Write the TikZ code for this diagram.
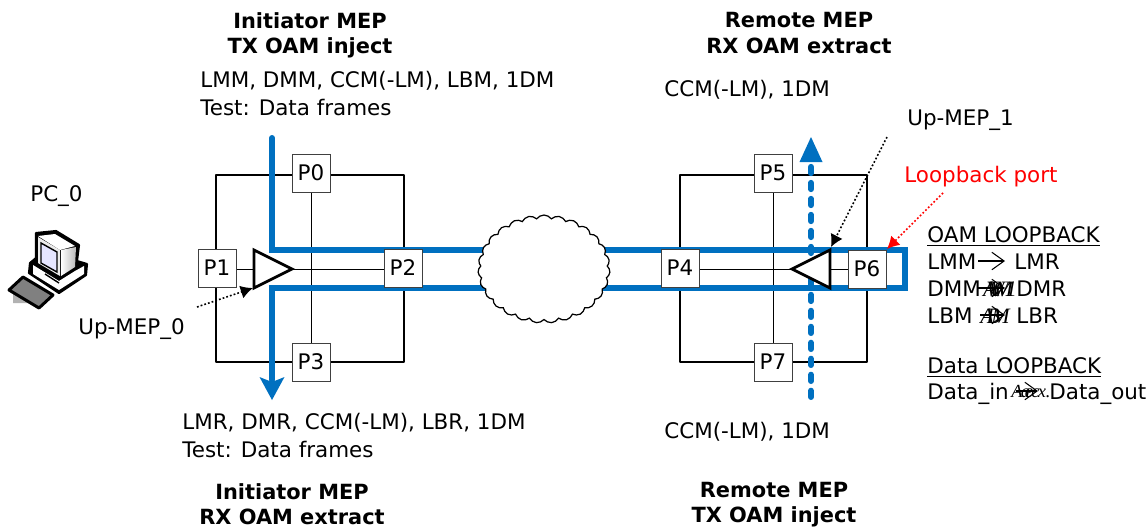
\documentclass[tikz,border=0pt]{standalone}
\usepackage{fontspec}
\setmainfont{DejaVu Sans}
\newfontfamily\smearfont{Liberation Serif}
\usetikzlibrary{arrows.meta,shapes.symbols,shapes.geometric}
\definecolor{oamblue}{RGB}{0,112,192}
\tikzset{
  portbox/.style={draw=black!75,fill=white,minimum size=0.76cm,inner sep=0pt,line width=0.5pt,font=\fontsize{12.2}{14}\selectfont},
  txt/.style={inner sep=0pt,font=\fontsize{12.2}{14}\selectfont,anchor=west},
  headtxt/.style={inner sep=0pt,align=center,font=\fontsize{11.9}{14.3}\selectfont\bfseries},
  listtxt/.style={txt,align=left,text height=9.5pt,text depth=2.5pt,yshift=-1.1pt},
  bridge/.style={line width=1.5pt,line join=round},
  wire/.style={line width=0.55pt},
  oamline/.style={line width=3.4pt,color=oamblue,line join=miter},
  oamdash/.style={line width=3.4pt,color=oamblue,dash pattern=on 3.6pt off 5.5pt,line cap=round},
  hint/.style={line width=0.9pt,dash pattern=on 1pt off 1.2pt,-{Latex[length=7pt,width=7.5pt]}},
  mep/.style={draw,fill=white,line width=1.6pt,line join=miter},
  swap/.style={line width=0.6pt,-{Straight Barb[length=7pt,width=10pt,line width=0.6pt]}},
  smear/.style={inner sep=0pt,font=\fontsize{12.5}{15}\smearfont\itshape,anchor=center}
}
\begin{document}
\begin{tikzpicture}[x=0.02cm,y=-0.02cm]
  \useasboundingbox (0,0) rectangle (1146,529);
  % bridges
  \draw[bridge] (216,175) rectangle (404,362);
  \draw[bridge] (680,175) rectangle (867,362);
  \draw[wire] (311,173) -- (311,362);
  \draw[wire] (217,269) -- (403,269);
  \draw[wire] (773,173) -- (773,362);
  \draw[wire] (680,269) -- (867,269);
  % OAM paths
  \draw[oamdash] (811,397) -- (811,160);
  \draw[oamline,line cap=round] (272,138) -- (272,250) -- (905,250) -- (905,288) -- (272,288) -- (272,380);
  \fill[oamblue] (811,137) -- (822.5,162) -- (799.5,162) -- cycle;
  \fill[oamblue] (272,400) -- (284.5,377) -- (272,382) -- (259.5,377) -- cycle;
  % cloud
  \node[cloud,draw,fill=white,cloud puffs=27,cloud puff arc=110,aspect=1.2,minimum width=2.64cm,minimum height=2.16cm,inner sep=0pt,line width=0.7pt] (wan) at (544,269) {};
  % ports
  \node[portbox] (P0) at (311,173) {P0};
  \node[portbox] (P1) at (217,268) {P1};
  \node[portbox] (P2) at (403,268) {P2};
  \node[portbox] (P3) at (311,362) {P3};
  \node[portbox] (P4) at (680,268) {P4};
  \node[portbox] (P5) at (773,173) {P5};
  \node[portbox] (P6) at (867,269) {P6};
  \node[portbox] (P7) at (773,362) {P7};
  % MEPs
  \draw[mep] (254,250) -- (292,269) -- (254,288) -- cycle;
  \draw[mep] (830,250) -- (792,269) -- (830,288) -- cycle;
  \coordinate (mep0) at (253,288);
  \coordinate (mep1) at (831,247);
  \coordinate (lbport) at (887,249);
  % PC
  \fill[gray!60] (13,293) -- (13,303) -- (33,303) -- cycle;
  \draw[line width=1.7pt,line join=round,fill=gray] (9,290) -- (23,277) -- (53,295) -- (39,308) -- cycle;
  \fill[black,draw=black,line width=1.2pt,line join=round] (36,233) -- (56,231) -- (79,245) -- (77,261) -- (87,264) -- (86,275) -- (59,293) -- (29,273) -- (30,263) -- (36,258) -- cycle;
  \fill[white] (38,236) -- (55,234) -- (75,246) -- (60,250) -- cycle;
  \shade[left color=white,right color=gray!55] (61,250) -- (76,247) -- (75,267) -- (61,276) -- cycle;
  \fill[gray!15] (38,237) -- (60,250) -- (60,276) -- (38,263) -- cycle;
  \draw[line width=0.8pt,fill=blue!10] (41,243) -- (57,252) -- (57,272) -- (41,263) -- cycle;
  \fill[white] (33,265) -- (59,281) -- (75,271) -- (84,266) -- (84,274) -- (59,290) -- (33,274) -- cycle;
  \draw[line width=0.8pt] (45,274) -- (59,283);
  % headings
  \node[headtxt] (itx) at (310,35) {Initiator MEP\\TX OAM inject};
  \node[headtxt] (rrx) at (799,33) {Remote MEP\\RX OAM extract};
  \node[headtxt] (irx) at (292,504) {Initiator MEP\\RX OAM extract};
  \node[headtxt] (rtx) at (774,505) {Remote MEP\\TX OAM inject};
  % frames
  \node[listtxt] (txlist) at (200,79) {LMM, DMM, CCM(-LM), LBM, 1DM};
  \node[listtxt] (txtest) at (200,107) {Test: Data frames};
  \node[listtxt] (rxlist) at (182,421) {LMR, DMR, CCM(-LM), LBR, 1DM};
  \node[listtxt] (rxtest) at (182,449) {Test: Data frames};
  \node[listtxt] (ccmtop) at (664,88) {CCM(-LM), 1DM};
  \node[listtxt] (ccmbot) at (664,430) {CCM(-LM), 1DM};
  % callouts
  \node[listtxt] (pc) at (30,193) {PC\_0};
  \node[listtxt] (up0) at (78,326) {Up-MEP\_0};
  \node[listtxt] (up1) at (907,117) {Up-MEP\_1};
  \node[listtxt,text=red] (lb) at (904,174) {Loopback port};
  \coordinate (up0s) at (197,307);
  \coordinate (up1s) at (887,137);
  \coordinate (lbs) at (943,193);
  \draw[hint] (up0s) -- (mep0);
  \draw[hint] (up1s) -- (mep1);
  \draw[hint,red] (lbs) -- (lbport);
  % loopback table
  \node[listtxt] (oamh) at (927,234) {\underline{OAM LOOPBACK}};
  \node[listtxt] (lmm) at (927,261) {LMM};
  \node[listtxt] (lmr) at (1014,261) {LMR};
  \node[listtxt] (dmm) at (927,288) {DMM};
  \node[listtxt] (dmr) at (1016,288) {DMR};
  \node[listtxt] (lbm) at (927,315) {LBM};
  \node[listtxt] (lbr) at (1016,315) {LBR};
  \node[listtxt] (datah) at (927,365) {\underline{Data LOOPBACK}};
  \node[listtxt] (din) at (927,391) {Data\_in};
  \node[listtxt] (dout) at (1049,391) {Data\_out};
  \coordinate (a1s) at (978,261); \coordinate (a1e) at (1005,261);
  \coordinate (a2s) at (978,288); \coordinate (a2e) at (1005,288);
  \coordinate (a3s) at (980,315); \coordinate (a3e) at (1005,315);
  \coordinate (a4s) at (1016,391); \coordinate (a4e) at (1038,391);
  \draw[swap] (a1s) -- (a1e);
  \draw[swap] (a2s) -- (a2e);
  \draw[swap] (a3s) -- (a3e);
  \draw[swap] (a4s) -- (a4e);
  \node[smear] (dmmx) at (1000,289) {A\kern-6pt W\kern-8pt W\kern-8pt M\kern-4pt 1};
  \node[smear] (lbmx) at (995,316) {A\kern-4pt B\kern-5pt M};
  \node[smear,font=\fontsize{10.5}{12}\smearfont\itshape] (dinx) at (1031,392) {A\kern-1pt a\kern-3pt e\kern-1pt c\kern-1pt x.};
\end{tikzpicture}
\end{document}
